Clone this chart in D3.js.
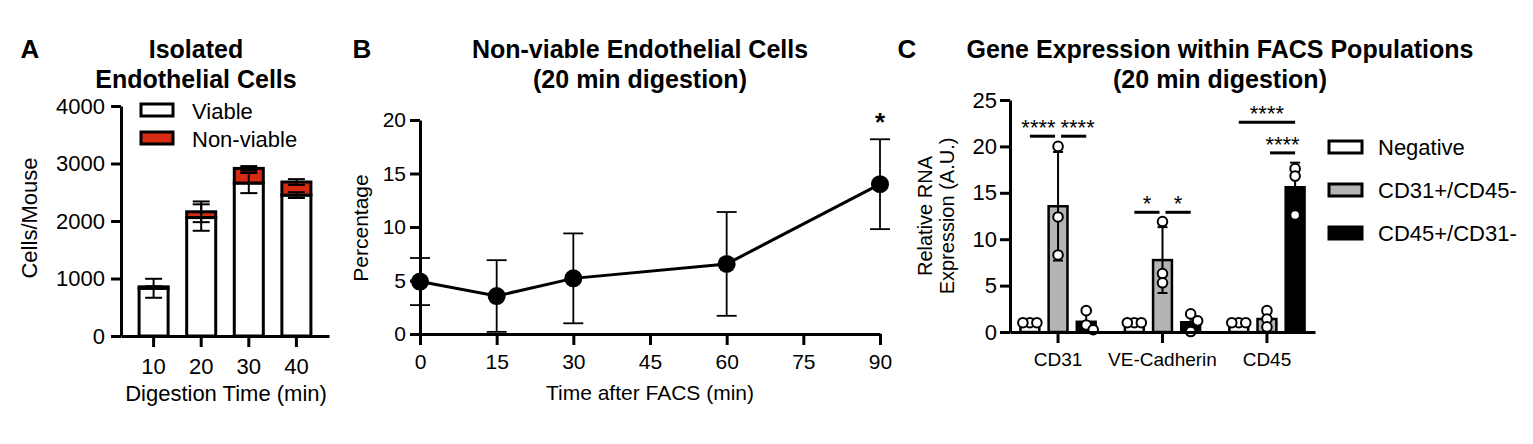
<!DOCTYPE html>
<html>
<head>
<meta charset="utf-8">
<script src="https://cdn.jsdelivr.net/npm/d3@7"></script>
<style>
  body { margin: 0; background: #fff; }
  svg text { font-family: "Liberation Sans", Arial, Helvetica, sans-serif; fill: #000; }
</style>
</head>
<body>
<div id="fig"></div>
<script>
// ---- Panel A: isolated endothelial cells (stacked) ----
const digestTimes = ["10", "20", "30", "40"];
const viableMean = [830, 2060, 2660, 2450];
const viableSD = [165, 230, 175, 50];
const nonViableMean = [25, 100, 255, 228];
const nonViableSD = [10, 180, 40, 50];
const aTicks = [0, 1000, 2000, 3000, 4000];

// ---- Panel B: non-viable cells over time ----
const facsTimes = [0, 15, 30, 60, 90];
const pctMean = [4.9, 3.55, 5.2, 6.55, 14.0];
const pctSD = [2.2, 3.35, 4.2, 4.85, 4.2];
const bTicksX = [0, 15, 30, 45, 60, 75, 90];
const bTicksY = [0, 5, 10, 15, 20];
const bSignif = [{ time: 90, label: "*" }];

// ---- Panel C: gene expression in FACS populations ----
const genes = ["CD31", "VE-Cadherin", "CD45"];
const populations = ["Negative", "CD31+/CD45-", "CD45+/CD31-"];
const popColors = ["#ffffff", "#b4b4b4", "#000000"];
const exprMean = [[1, 13.55, 1.1], [1, 7.75, 1.05], [1, 1.4, 15.6]];
const exprSD = [[0, 5.85, 1.1], [0, 3.55, 0.95], [0, 0.85, 2.65]];
const exprPoints = [
  [[1, 1, 1], [20.0, 12.4, 8.3], [2.3, 0.75, 0.25]],
  [[1, 1, 1], [11.9, 6.3, 5.3], [1.95, 1.2, 0.05]],
  [[1, 1, 1], [2.3, 1.4, 0.55], [17.6, 16.8, 12.6]]
];
const cTicks = [0, 5, 10, 15, 20, 25];
const cSignif = [
  { gene: "CD31", from: 0, to: 1, y: 21.1, label: "****" },
  { gene: "CD31", from: 1, to: 2, y: 21.1, label: "****" },
  { gene: "VE-Cadherin", from: 0, to: 1, y: 12.9, label: "*" },
  { gene: "VE-Cadherin", from: 1, to: 2, y: 12.9, label: "*" },
  { gene: "CD45", from: 0, to: 2, y: 22.6, label: "****" },
  { gene: "CD45", from: 1, to: 2, y: 19.3, label: "****" }
];

const RED = "#d42b12";

const svg = d3.select("#fig").append("svg")
  .attr("width", 1533).attr("height", 444);
svg.append("rect").attr("width", 1533).attr("height", 444).attr("fill", "#fff");

function styleAxis(g, size) {
  g.attr("font-family", null).attr("font-size", null);
  g.selectAll("path, line").attr("stroke", "#000").attr("stroke-width", 3);
  g.selectAll("text").attr("font-size", size).attr("fill", "#000");
}

function errorBar(g, cx, y1, y2, half, sw) {
  g.append("line").attr("x1", cx).attr("x2", cx).attr("y1", y1).attr("y2", y2)
    .attr("stroke", "#000").attr("stroke-width", sw);
  [y1, y2].forEach(y => g.append("line")
    .attr("x1", cx - half).attr("x2", cx + half).attr("y1", y).attr("y2", y)
    .attr("stroke", "#000").attr("stroke-width", sw));
}

// panel letters and titles
[["A", 30], ["B", 362], ["C", 907]].forEach(([l, x]) =>
  svg.append("text").attr("x", x).attr("y", 58).attr("text-anchor", "middle")
    .attr("font-size", 26).attr("font-weight", "bold").text(l));

function title(x, lines) {
  lines.forEach((t, i) => svg.append("text").attr("x", x).attr("y", 58 + i * 30)
    .attr("text-anchor", "middle").attr("font-size", 25).attr("font-weight", "bold").text(t));
}
title(196, ["Isolated", "Endothelial Cells"]);
title(640, ["Non-viable Endothelial Cells", "(20 min digestion)"]);
title(1220, ["Gene Expression within FACS Populations", "(20 min digestion)"]);

// ================= Panel A =================
{
  const x = d3.scaleBand().domain(digestTimes).range([121, 329]).paddingInner(0.39).paddingOuter(0.38);
  const y = d3.scaleLinear().domain([0, 4000]).range([336, 106]);
  const g = svg.append("g");

  const rows = digestTimes.map((t, i) => ({
    t, v: viableMean[i], vsd: viableSD[i], n: nonViableMean[i], nsd: nonViableSD[i]
  }));

  g.selectAll("rect.viable").data(rows).join("rect").attr("class", "viable")
    .attr("x", d => x(d.t)).attr("width", x.bandwidth())
    .attr("y", d => y(d.v)).attr("height", d => y(0) - y(d.v))
    .attr("fill", "#fff").attr("stroke", "#000").attr("stroke-width", 3);
  g.selectAll("rect.nonviable").data(rows).join("rect").attr("class", "nonviable")
    .attr("x", d => x(d.t)).attr("width", x.bandwidth())
    .attr("y", d => y(d.v + d.n)).attr("height", d => y(d.v) - y(d.v + d.n))
    .attr("fill", RED).attr("stroke", "#000").attr("stroke-width", 3);

  rows.forEach(d => {
    const cx = x(d.t) + x.bandwidth() / 2;
    errorBar(g, cx, y(d.v - d.vsd), y(d.v + d.vsd), 8.5, 2);
    errorBar(g, cx, y(d.v + d.n - d.nsd), y(d.v + d.n + d.nsd), 8.5, 2);
  });

  const ax = g.append("g").attr("transform", "translate(0,336)")
    .call(d3.axisBottom(x).tickSize(11).tickSizeOuter(0).tickPadding(11));
  styleAxis(ax, 22);
  const ay = g.append("g").attr("transform", "translate(121,0)")
    .call(d3.axisLeft(y).tickValues(aTicks).tickFormat(d3.format("d")).tickSize(10).tickSizeOuter(0).tickPadding(6));
  styleAxis(ay, 22);

  g.append("text").attr("transform", "translate(37,218) rotate(-90)")
    .attr("text-anchor", "middle").attr("font-size", 22).text("Cells/Mouse");
  g.append("text").attr("x", 226).attr("y", 401).attr("text-anchor", "middle")
    .attr("font-size", 22).text("Digestion Time (min)");

  // legend
  const leg = [["Viable", "#fff"], ["Non-viable", RED]];
  leg.forEach(([name, col], i) => {
    g.append("rect").attr("x", 141).attr("y", 104 + i * 28).attr("width", 32).attr("height", 12)
      .attr("fill", col).attr("stroke", "#000").attr("stroke-width", 3);
    g.append("text").attr("x", 192).attr("y", 119 + i * 28).attr("font-size", 22).text(name);
  });
}

// ================= Panel B =================
{
  const x = d3.scaleLinear().domain([0, 90]).range([420, 880]);
  const y = d3.scaleLinear().domain([0, 20]).range([334, 120]);
  const g = svg.append("g");

  const pts = facsTimes.map((t, i) => ({ t, m: pctMean[i], sd: pctSD[i] }));

  pts.forEach(d => errorBar(g, x(d.t), y(d.m - d.sd), y(d.m + d.sd), 10, 1.8));

  g.append("path").datum(pts)
    .attr("d", d3.line().x(d => x(d.t)).y(d => y(d.m)))
    .attr("fill", "none").attr("stroke", "#000").attr("stroke-width", 3);

  const ax = g.append("g").attr("transform", "translate(0,334)")
    .call(d3.axisBottom(x).tickValues(bTicksX).tickSize(11).tickSizeOuter(0).tickPadding(9));
  styleAxis(ax, 21);
  const ay = g.append("g").attr("transform", "translate(420,0)")
    .call(d3.axisLeft(y).tickValues(bTicksY).tickSize(10).tickSizeOuter(0).tickPadding(4));
  styleAxis(ay, 21);

  g.selectAll("circle").data(pts).join("circle")
    .attr("cx", d => x(d.t)).attr("cy", d => y(d.m)).attr("r", 9).attr("fill", "#000");

  bSignif.forEach(s => {
    const d = pts.find(p => p.t === s.time);
    g.append("text").attr("x", x(s.time)).attr("y", y(d.m + d.sd) - 8)
      .attr("text-anchor", "middle").attr("font-size", 26).attr("font-weight", "bold").text(s.label);
  });

  g.append("text").attr("transform", "translate(368,228) rotate(-90)")
    .attr("text-anchor", "middle").attr("font-size", 21).text("Percentage");
  g.append("text").attr("x", 650).attr("y", 400).attr("text-anchor", "middle")
    .attr("font-size", 21).text("Time after FACS (min)");
}

// ================= Panel C =================
{
  const x = d3.scaleBand().domain(genes).range([1010, 1315]).paddingInner(0.28).paddingOuter(0.1);
  const xi = d3.scaleBand().domain(d3.range(populations.length)).range([0, x.bandwidth()]).paddingInner(0.33);
  const y = d3.scaleLinear().domain([0, 25]).range([332, 100]);
  const g = svg.append("g");
  const cx = (gene, p) => x(gene) + xi(p) + xi.bandwidth() / 2;

  const bars = [];
  genes.forEach((gene, gi) => populations.forEach((pop, pi) =>
    bars.push({ gene, pi, m: exprMean[gi][pi], sd: exprSD[gi][pi], pts: exprPoints[gi][pi] })));

  g.selectAll("rect.bar").data(bars).join("rect").attr("class", "bar")
    .attr("x", d => x(d.gene) + xi(d.pi)).attr("width", xi.bandwidth())
    .attr("y", d => y(d.m)).attr("height", d => y(0) - y(d.m))
    .attr("fill", d => popColors[d.pi]).attr("stroke", "#000").attr("stroke-width", 2.5);

  bars.forEach(d => {
    if (d.sd > 0) errorBar(g, cx(d.gene, d.pi), y(d.m - d.sd), y(d.m + d.sd), 5, 2);
  });

  // replicate points, spread sideways where they overlap
  const md = 7;
  bars.forEach(d => {
    const c = cx(d.gene, d.pi);
    const placed = [];
    d.pts.forEach(v => {
      const py = y(v);
      for (const k of [0, 1, -1, 2, -2]) {
        const px = c + k * md;
        if (placed.every(p => Math.hypot(p[0] - px, p[1] - py) >= md - 0.01)) { placed.push([px, py]); break; }
      }
    });
    placed.forEach(([px, py]) => g.append("circle").attr("cx", px).attr("cy", py).attr("r", 4.8)
      .attr("fill", "#fff").attr("stroke", "#000").attr("stroke-width", 2));
  });

  const ax = g.append("g").attr("transform", "translate(0,332)")
    .call(d3.axisBottom(x).tickSize(11).tickSizeOuter(0).tickPadding(10));
  styleAxis(ax, 19);
  const ay = g.append("g").attr("transform", "translate(1010,0)")
    .call(d3.axisLeft(y).tickValues(cTicks).tickSize(10).tickSizeOuter(0).tickPadding(3));
  styleAxis(ay, 22);

  // significance lines
  cSignif.forEach(s => {
    const x1 = cx(s.gene, s.from) + (s.from === 1 ? 3 : 0);
    const x2 = cx(s.gene, s.to) - (s.to === 1 ? 3 : 0);
    const yy = y(s.y);
    g.append("line").attr("x1", x1).attr("x2", x2).attr("y1", yy).attr("y2", yy)
      .attr("stroke", "#000").attr("stroke-width", 3);
    const twin = cSignif.filter(o => o.gene === s.gene && o.y === s.y);
    const nudge = twin.length > 1 && s.label.length > 1 ? (s.from === 0 ? -4 : 4) : 0;
    g.append("text").attr("x", (x1 + x2) / 2 + nudge).attr("y", yy - 1)
      .attr("text-anchor", "middle").attr("font-size", 22).text(s.label);
  });

  g.append("text").attr("transform", "translate(932,216) rotate(-90)")
    .attr("text-anchor", "middle").attr("font-size", 20).text("Relative RNA");
  g.append("text").attr("transform", "translate(954,216) rotate(-90)")
    .attr("text-anchor", "middle").attr("font-size", 20).text("Expression (A.U.)");

  populations.forEach((pop, i) => {
    g.append("rect").attr("x", 1329).attr("y", 141 + i * 43).attr("width", 33).attr("height", 12)
      .attr("fill", popColors[i]).attr("stroke", "#000").attr("stroke-width", 3);
    g.append("text").attr("x", 1378).attr("y", 155 + i * 43).attr("font-size", 22).text(pop);
  });
}
</script>
</body>
</html>
